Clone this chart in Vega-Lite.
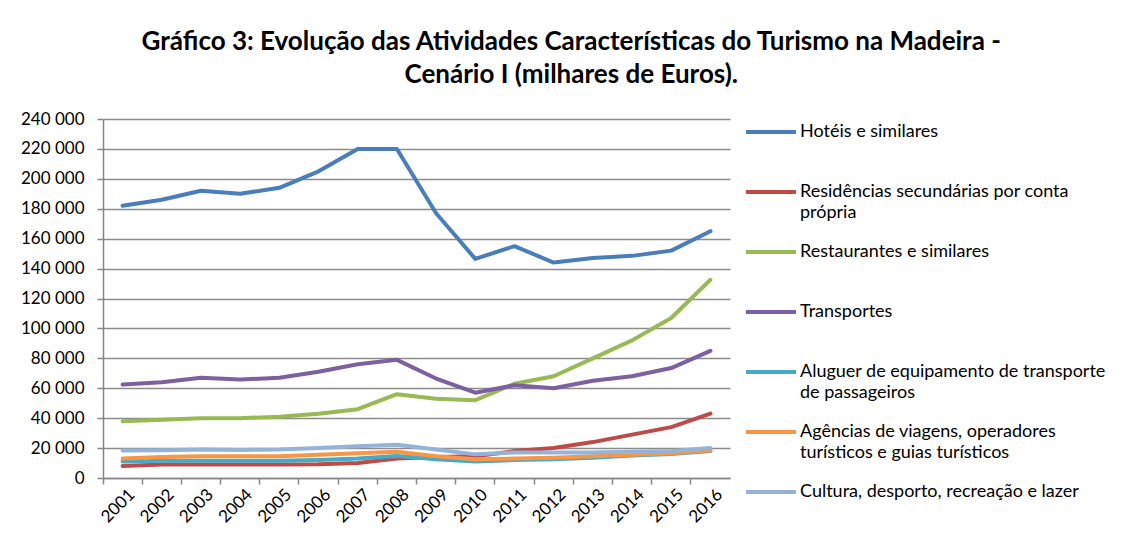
{
  "$schema": "https://vega.github.io/schema/vega-lite/v6.json",
  "width": 627,
  "height": 359,
  "padding": {"left": 20, "top": 29, "right": 5, "bottom": 5},
  "background": "white",
  "title": {
    "text": ["Gráfico 3: Evolução das Atividades Características do Turismo na Madeira -", "Cenário I (milhares de Euros)."],
    "font": "Lato",
    "fontSize": 26,
    "fontWeight": "bold",
    "color": "#000000",
    "anchor": "middle",
    "frame": "bounds",
    "lineHeight": 33,
    "offset": 14,
    "dx": 8
  },
  "config": {
    "view": {"stroke": null},
    "font": "Lato",
    "style": {"guide-label": {"lineHeight": 21}},
    "axis": {
      "labelFont": "Lato",
      "labelFontSize": 17,
      "labelColor": "#000000",
      "domainColor": "#868686",
      "tickColor": "#868686",
      "gridColor": "#8c8c8c",
      "domainWidth": 1.5,
      "tickWidth": 1.5,
      "gridWidth": 1.5
    },
    "legend": {
      "labelFont": "Lato",
      "labelFontSize": 18,
      "labelColor": "#000000"
    }
  },
  "data": {
    "values": [
      {"year": "2001", "series": "Hotéis e similares", "value": 182000},
      {"year": "2002", "series": "Hotéis e similares", "value": 186000},
      {"year": "2003", "series": "Hotéis e similares", "value": 192000},
      {"year": "2004", "series": "Hotéis e similares", "value": 190000},
      {"year": "2005", "series": "Hotéis e similares", "value": 194000},
      {"year": "2006", "series": "Hotéis e similares", "value": 205000},
      {"year": "2007", "series": "Hotéis e similares", "value": 220000},
      {"year": "2008", "series": "Hotéis e similares", "value": 220000},
      {"year": "2009", "series": "Hotéis e similares", "value": 177000},
      {"year": "2010", "series": "Hotéis e similares", "value": 146500},
      {"year": "2011", "series": "Hotéis e similares", "value": 155000},
      {"year": "2012", "series": "Hotéis e similares", "value": 144000},
      {"year": "2013", "series": "Hotéis e similares", "value": 147000},
      {"year": "2014", "series": "Hotéis e similares", "value": 148500},
      {"year": "2015", "series": "Hotéis e similares", "value": 152000},
      {"year": "2016", "series": "Hotéis e similares", "value": 165000},
      {"year": "2001", "series": "Residências secundárias por conta própria", "value": 8000},
      {"year": "2002", "series": "Residências secundárias por conta própria", "value": 9000},
      {"year": "2003", "series": "Residências secundárias por conta própria", "value": 9000},
      {"year": "2004", "series": "Residências secundárias por conta própria", "value": 9000},
      {"year": "2005", "series": "Residências secundárias por conta própria", "value": 9000},
      {"year": "2006", "series": "Residências secundárias por conta própria", "value": 9200},
      {"year": "2007", "series": "Residências secundárias por conta própria", "value": 10000},
      {"year": "2008", "series": "Residências secundárias por conta própria", "value": 13000},
      {"year": "2009", "series": "Residências secundárias por conta própria", "value": 14000},
      {"year": "2010", "series": "Residências secundárias por conta própria", "value": 14500},
      {"year": "2011", "series": "Residências secundárias por conta própria", "value": 18000},
      {"year": "2012", "series": "Residências secundárias por conta própria", "value": 20000},
      {"year": "2013", "series": "Residências secundárias por conta própria", "value": 24000},
      {"year": "2014", "series": "Residências secundárias por conta própria", "value": 29000},
      {"year": "2015", "series": "Residências secundárias por conta própria", "value": 34000},
      {"year": "2016", "series": "Residências secundárias por conta própria", "value": 43000},
      {"year": "2001", "series": "Restaurantes e similares", "value": 38000},
      {"year": "2002", "series": "Restaurantes e similares", "value": 39000},
      {"year": "2003", "series": "Restaurantes e similares", "value": 40000},
      {"year": "2004", "series": "Restaurantes e similares", "value": 40000},
      {"year": "2005", "series": "Restaurantes e similares", "value": 41000},
      {"year": "2006", "series": "Restaurantes e similares", "value": 43000},
      {"year": "2007", "series": "Restaurantes e similares", "value": 46000},
      {"year": "2008", "series": "Restaurantes e similares", "value": 56000},
      {"year": "2009", "series": "Restaurantes e similares", "value": 53000},
      {"year": "2010", "series": "Restaurantes e similares", "value": 52000},
      {"year": "2011", "series": "Restaurantes e similares", "value": 63000},
      {"year": "2012", "series": "Restaurantes e similares", "value": 68000},
      {"year": "2013", "series": "Restaurantes e similares", "value": 80000},
      {"year": "2014", "series": "Restaurantes e similares", "value": 92000},
      {"year": "2015", "series": "Restaurantes e similares", "value": 107000},
      {"year": "2016", "series": "Restaurantes e similares", "value": 132500},
      {"year": "2001", "series": "Transportes", "value": 62500},
      {"year": "2002", "series": "Transportes", "value": 64000},
      {"year": "2003", "series": "Transportes", "value": 67000},
      {"year": "2004", "series": "Transportes", "value": 65800},
      {"year": "2005", "series": "Transportes", "value": 67000},
      {"year": "2006", "series": "Transportes", "value": 71000},
      {"year": "2007", "series": "Transportes", "value": 76000},
      {"year": "2008", "series": "Transportes", "value": 79000},
      {"year": "2009", "series": "Transportes", "value": 66500},
      {"year": "2010", "series": "Transportes", "value": 57000},
      {"year": "2011", "series": "Transportes", "value": 62000},
      {"year": "2012", "series": "Transportes", "value": 60000},
      {"year": "2013", "series": "Transportes", "value": 65000},
      {"year": "2014", "series": "Transportes", "value": 68000},
      {"year": "2015", "series": "Transportes", "value": 73500},
      {"year": "2016", "series": "Transportes", "value": 85000},
      {"year": "2001", "series": "Aluguer de equipamento de transporte de passageiros", "value": 11000},
      {"year": "2002", "series": "Aluguer de equipamento de transporte de passageiros", "value": 11500},
      {"year": "2003", "series": "Aluguer de equipamento de transporte de passageiros", "value": 11500},
      {"year": "2004", "series": "Aluguer de equipamento de transporte de passageiros", "value": 11500},
      {"year": "2005", "series": "Aluguer de equipamento de transporte de passageiros", "value": 11500},
      {"year": "2006", "series": "Aluguer de equipamento de transporte de passageiros", "value": 12000},
      {"year": "2007", "series": "Aluguer de equipamento de transporte de passageiros", "value": 13000},
      {"year": "2008", "series": "Aluguer de equipamento de transporte de passageiros", "value": 14700},
      {"year": "2009", "series": "Aluguer de equipamento de transporte de passageiros", "value": 12500},
      {"year": "2010", "series": "Aluguer de equipamento de transporte de passageiros", "value": 11000},
      {"year": "2011", "series": "Aluguer de equipamento de transporte de passageiros", "value": 12000},
      {"year": "2012", "series": "Aluguer de equipamento de transporte de passageiros", "value": 12500},
      {"year": "2013", "series": "Aluguer de equipamento de transporte de passageiros", "value": 13500},
      {"year": "2014", "series": "Aluguer de equipamento de transporte de passageiros", "value": 15000},
      {"year": "2015", "series": "Aluguer de equipamento de transporte de passageiros", "value": 16000},
      {"year": "2016", "series": "Aluguer de equipamento de transporte de passageiros", "value": 18000},
      {"year": "2001", "series": "Agências de viagens, operadores turísticos e guias turísticos", "value": 13000},
      {"year": "2002", "series": "Agências de viagens, operadores turísticos e guias turísticos", "value": 14000},
      {"year": "2003", "series": "Agências de viagens, operadores turísticos e guias turísticos", "value": 14500},
      {"year": "2004", "series": "Agências de viagens, operadores turísticos e guias turísticos", "value": 14500},
      {"year": "2005", "series": "Agências de viagens, operadores turísticos e guias turísticos", "value": 14500},
      {"year": "2006", "series": "Agências de viagens, operadores turísticos e guias turísticos", "value": 15500},
      {"year": "2007", "series": "Agências de viagens, operadores turísticos e guias turísticos", "value": 16500},
      {"year": "2008", "series": "Agências de viagens, operadores turísticos e guias turísticos", "value": 17500},
      {"year": "2009", "series": "Agências de viagens, operadores turísticos e guias turísticos", "value": 14500},
      {"year": "2010", "series": "Agências de viagens, operadores turísticos e guias turísticos", "value": 12500},
      {"year": "2011", "series": "Agências de viagens, operadores turísticos e guias turísticos", "value": 13000},
      {"year": "2012", "series": "Agências de viagens, operadores turísticos e guias turísticos", "value": 13500},
      {"year": "2013", "series": "Agências de viagens, operadores turísticos e guias turísticos", "value": 14500},
      {"year": "2014", "series": "Agências de viagens, operadores turísticos e guias turísticos", "value": 15500},
      {"year": "2015", "series": "Agências de viagens, operadores turísticos e guias turísticos", "value": 16500},
      {"year": "2016", "series": "Agências de viagens, operadores turísticos e guias turísticos", "value": 18500},
      {"year": "2001", "series": "Cultura, desporto, recreação e lazer", "value": 18400},
      {"year": "2002", "series": "Cultura, desporto, recreação e lazer", "value": 18500},
      {"year": "2003", "series": "Cultura, desporto, recreação e lazer", "value": 19000},
      {"year": "2004", "series": "Cultura, desporto, recreação e lazer", "value": 18800},
      {"year": "2005", "series": "Cultura, desporto, recreação e lazer", "value": 19000},
      {"year": "2006", "series": "Cultura, desporto, recreação e lazer", "value": 20000},
      {"year": "2007", "series": "Cultura, desporto, recreação e lazer", "value": 21300},
      {"year": "2008", "series": "Cultura, desporto, recreação e lazer", "value": 22300},
      {"year": "2009", "series": "Cultura, desporto, recreação e lazer", "value": 19000},
      {"year": "2010", "series": "Cultura, desporto, recreação e lazer", "value": 15800},
      {"year": "2011", "series": "Cultura, desporto, recreação e lazer", "value": 17000},
      {"year": "2012", "series": "Cultura, desporto, recreação e lazer", "value": 17000},
      {"year": "2013", "series": "Cultura, desporto, recreação e lazer", "value": 17000},
      {"year": "2014", "series": "Cultura, desporto, recreação e lazer", "value": 17500},
      {"year": "2015", "series": "Cultura, desporto, recreação e lazer", "value": 18000},
      {"year": "2016", "series": "Cultura, desporto, recreação e lazer", "value": 20000}
    ]
  },
  "mark": {"type": "line", "strokeWidth": 4, "strokeCap": "round", "strokeJoin": "round"},
  "encoding": {
    "x": {
      "field": "year",
      "type": "ordinal",
      "scale": {"type": "band", "paddingInner": 0, "paddingOuter": 0},
      "axis": {
        "title": null,
        "labelAngle": -45,
        "bandPosition": 0,
        "tickSize": 6,
        "grid": false,
        "labelPadding": 2,
        "labelOffset": 4
      }
    },
    "y": {
      "field": "value",
      "type": "quantitative",
      "scale": {"domain": [0, 240000], "nice": false},
      "axis": {
        "title": null,
        "values": [0, 20000, 40000, 60000, 80000, 100000, 120000, 140000, 160000, 180000, 200000, 220000, 240000],
        "labelExpr": "replace(format(datum.value, ','), /,/g, ' ')",
        "tickSize": 6,
        "labelPadding": 13,
        "grid": true
      }
    },
    "color": {
      "field": "series",
      "type": "nominal",
      "sort": ["Hotéis e similares", "Residências secundárias por conta própria", "Restaurantes e similares", "Transportes", "Aluguer de equipamento de transporte de passageiros", "Agências de viagens, operadores turísticos e guias turísticos", "Cultura, desporto, recreação e lazer"],
      "scale": {
        "domain": ["Hotéis e similares", "Residências secundárias por conta própria", "Restaurantes e similares", "Transportes", "Aluguer de equipamento de transporte de passageiros", "Agências de viagens, operadores turísticos e guias turísticos", "Cultura, desporto, recreação e lazer"],
        "range": ["#4A7EBB", "#BE4B48", "#98B954", "#7D60A0", "#46AAC5", "#F79646", "#95B3D7"]
      },
      "legend": {
        "title": null,
        "orient": "none",
        "legendX": 641,
        "legendY": -17,
        "symbolType": "stroke",
        "symbolSize": 2500,
        "symbolStrokeWidth": 4,
        "symbolOffset": 0,
        "labelOffset": 2,
        "rowPadding": 0,
        "clipHeight": 60,
        "labelLimit": 400,
        "labelBaseline": "middle",
        "labelExpr": "datum.label == 'Residências secundárias por conta própria' ? ['Residências secundárias por conta', 'própria'] : datum.label == 'Aluguer de equipamento de transporte de passageiros' ? ['Aluguer de equipamento de transporte', 'de passageiros'] : datum.label == 'Agências de viagens, operadores turísticos e guias turísticos' ? ['Agências de viagens, operadores', 'turísticos e guias turísticos'] : datum.label"
      }
    }
  }
}
